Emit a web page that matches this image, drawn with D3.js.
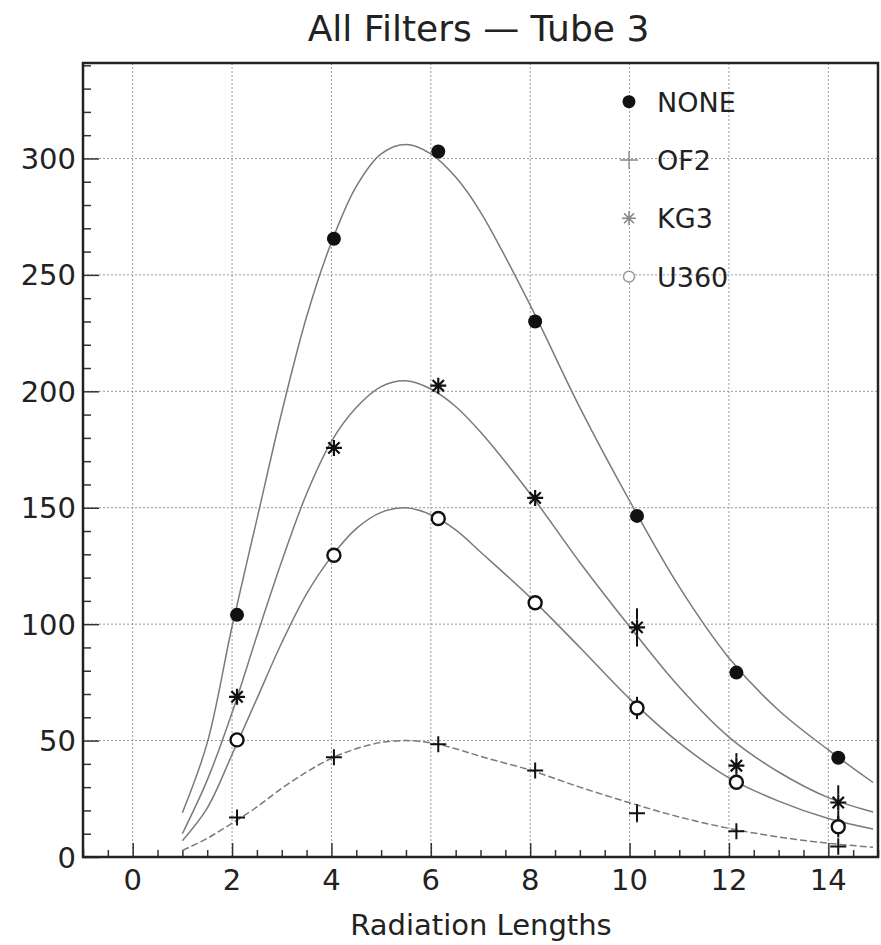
<!DOCTYPE html>
<html>
<head>
<meta charset="utf-8">
<script src="https://cdn.jsdelivr.net/npm/d3@7"></script>
<style>
  html, body { margin: 0; padding: 0; background: #fff; }
  svg { display: block; }
  text { font-family: "DejaVu Sans", sans-serif; fill: #222; }
</style>
</head>
<body>
<svg id="chart" width="881" height="945"></svg>
<script>
// Measured points (x in radiation lengths)
const xValues = [2.1, 4.05, 6.15, 8.1, 10.15, 12.15, 14.2];
const noneValues = [104, 265.5, 303, 230, 146.5, 79.2, 42.6];
const of2Values = [17, 42.8, 48.4, 37.1, 18.8, 11.1, 4.5];
const kg3Values = [68.8, 175.7, 202.4, 154.2, 98.6, 39.2, 23.4];
const u360Values = [50.3, 129.6, 145.4, 109.2, 64, 32.1, 13];

// Vertical uncertainties
const noneErrors = [2, 2.5, 2.5, 2.5, 2.5, 2, 1.5];
const of2Errors = [1, 3, 2, 2, 3.9, 2.5, 3.6];
const kg3Errors = [2, 2.5, 2.5, 2.5, 8.2, 5.4, 7.4];
const u360Errors = [1.5, 2, 2, 2, 4.8, 2, 4.6];

// Fitted longitudinal profiles, sampled along x
const curveX = [1, 1.5, 2, 2.5, 3, 3.5, 4, 4.5, 5, 5.5, 6, 6.5, 7, 8, 9, 10, 11, 12, 13, 14, 14.9];
const noneFit = [19, 49, 99, 145, 191, 232, 264, 288, 302, 306, 302, 292, 277, 237, 193, 153, 116, 85.5, 63, 46, 32];
const of2Fit = [2.8, 8, 14.5, 21.5, 29.5, 36.5, 42.4, 46.5, 49.2, 50, 49, 46.5, 43.2, 37.3, 30, 23.3, 17.2, 12.3, 8.6, 5.9, 4.2];
const kg3Fit = [10, 33, 62, 95, 127, 156, 178.5, 193, 202, 204.5, 201, 193.5, 182.5, 156, 126.5, 99, 73, 51.5, 36.5, 25.5, 19.3];
const u360Fit = [7, 21, 44, 68, 92, 113, 129, 141, 148, 150, 147, 140.5, 131, 111.5, 90, 68, 49, 34, 24, 16.5, 12];

// Axis ticks
const xMajorTicks = [0, 2, 4, 6, 8, 10, 12, 14];
const yMajorTicks = [0, 50, 100, 150, 200, 250, 300];

const titleText = "All Filters — Tube 3";
const xAxisTitle = "Radiation Lengths";
const seriesNames = ["NONE", "OF2", "KG3", "U360"];

const svg = d3.select("#chart");
const frame = { left: 83, right: 878, top: 63, bottom: 857 };

const x = d3.scaleLinear().domain([-1, 15]).range([frame.left, frame.right]);
const y = d3.scaleLinear().domain([0, 341]).range([frame.bottom, frame.top]);

// Title
svg.append("text")
  .attr("x", (frame.left + frame.right) / 2 - 2)
  .attr("y", 41)
  .attr("text-anchor", "middle")
  .style("font-size", "36px")
  .text(titleText);

// Dotted grid
const grid = svg.append("g").attr("stroke", "#9a9a9a").attr("stroke-width", 1)
  .attr("stroke-dasharray", "2,2");
grid.selectAll("line.gx").data(xMajorTicks).join("line")
  .attr("x1", d => x(d)).attr("x2", d => x(d))
  .attr("y1", frame.top).attr("y2", frame.bottom);
grid.selectAll("line.gy").data(yMajorTicks.filter(d => d > 0)).join("line")
  .attr("x1", frame.left).attr("x2", frame.right)
  .attr("y1", d => y(d)).attr("y2", d => y(d));

// Inward ticks via d3 axes
const xMinor = d3.range(-1, 15.01, 0.5).filter(v => !xMajorTicks.includes(v));
const yMinor = d3.range(0, 341, 10).filter(v => !yMajorTicks.includes(v));

function styleAxis(g) {
  g.select(".domain").remove();
  g.selectAll(".tick line").attr("stroke", "#333").attr("stroke-width", 1.5);
}

svg.append("g").attr("transform", `translate(0,${frame.bottom})`)
  .call(d3.axisTop(x).tickValues(xMinor).tickSize(7).tickFormat(""))
  .call(styleAxis);
svg.append("g").attr("transform", `translate(0,${frame.bottom})`)
  .call(d3.axisTop(x).tickValues(xMajorTicks).tickSize(14).tickFormat(""))
  .call(styleAxis);
svg.append("g").attr("transform", `translate(${frame.left},0)`)
  .call(d3.axisRight(y).tickValues(yMinor).tickSize(8).tickFormat(""))
  .call(styleAxis);
svg.append("g").attr("transform", `translate(${frame.left},0)`)
  .call(d3.axisRight(y).tickValues(yMajorTicks).tickSize(16).tickFormat(""))
  .call(styleAxis);

// Tick labels
svg.append("g").selectAll("text").data(xMajorTicks).join("text")
  .attr("x", d => x(d)).attr("y", 890)
  .attr("text-anchor", "middle")
  .style("font-size", "29px")
  .text(d => d);
svg.append("g").selectAll("text").data(yMajorTicks).join("text")
  .attr("x", 76).attr("y", d => y(d) + 10.5)
  .attr("text-anchor", "end")
  .style("font-size", "29px")
  .text(d => d);

// Axis title
svg.append("text")
  .attr("x", 481).attr("y", 935)
  .attr("text-anchor", "middle")
  .style("font-size", "29px")
  .text(xAxisTitle);

// Fit curves
svg.append("clipPath").attr("id", "plot-clip").append("rect")
  .attr("x", frame.left).attr("y", frame.top)
  .attr("width", frame.right - frame.left).attr("height", frame.bottom - frame.top);

const line = d3.line().x(d => x(d[0])).y(d => y(d[1])).curve(d3.curveCatmullRom.alpha(0.5));
const curves = svg.append("g").attr("clip-path", "url(#plot-clip)")
  .attr("fill", "none").attr("stroke", "#7a7a7a").attr("stroke-width", 1.5);
[noneFit, kg3Fit, u360Fit].forEach(fit => {
  curves.append("path").attr("d", line(d3.zip(curveX, fit)));
});
curves.append("path").attr("d", line(d3.zip(curveX, of2Fit)))
  .attr("stroke-dasharray", "7,3");

// Marker drawing helpers
function drawMarker(g, kind, cx, cy, opts) {
  const s = opts.size, c = opts.color, w = opts.width;
  if (kind === "dot") {
    g.append("circle").attr("cx", cx).attr("cy", cy).attr("r", s).attr("fill", c);
  } else if (kind === "circle") {
    g.append("circle").attr("cx", cx).attr("cy", cy).attr("r", s)
      .attr("fill", "#fff").attr("stroke", c).attr("stroke-width", w);
  } else if (kind === "plus") {
    g.append("path").attr("d", `M${cx - s},${cy}H${cx + s}M${cx},${cy - s}V${cy + s}`)
      .attr("stroke", c).attr("stroke-width", w);
  } else if (kind === "star") {
    const d = s * Math.SQRT1_2;
    g.append("path")
      .attr("d", `M${cx - s},${cy}H${cx + s}M${cx},${cy - s}V${cy + s}` +
                 `M${cx - d},${cy - d}L${cx + d},${cy + d}M${cx - d},${cy + d}L${cx + d},${cy - d}`)
      .attr("stroke", c).attr("stroke-width", w);
  }
}

const series = [
  { values: noneValues, errors: noneErrors, kind: "dot", size: 7, width: 0 },
  { values: of2Values, errors: of2Errors, kind: "plus", size: 8, width: 2 },
  { values: kg3Values, errors: kg3Errors, kind: "star", size: 8, width: 2.2 },
  { values: u360Values, errors: u360Errors, kind: "circle", size: 6.5, width: 2.4 }
];

const marks = svg.append("g");
series.forEach(s => {
  xValues.forEach((xv, i) => {
    const cx = x(xv), cy = y(s.values[i]);
    const top = y(s.values[i] + s.errors[i]);
    const bottom = y(s.values[i] - s.errors[i]);
    const gap = s.size;
    if (cy - top > gap) {
      marks.append("line").attr("x1", cx).attr("x2", cx).attr("y1", top).attr("y2", cy - gap)
        .attr("stroke", "#111").attr("stroke-width", 2);
    }
    if (bottom - cy > gap) {
      marks.append("line").attr("x1", cx).attr("x2", cx).attr("y1", cy + gap).attr("y2", bottom)
        .attr("stroke", "#111").attr("stroke-width", 2);
    }
    drawMarker(marks, s.kind, cx, cy, { size: s.size, color: "#111", width: s.width });
  });
});

// Legend
const legend = svg.append("g");
const legendY = [101.7, 160, 218.3, 276.7];
const legendStyle = [
  { kind: "dot", size: 6.5, color: "#111", width: 0 },
  { kind: "plus", size: 9, color: "#888", width: 1.3 },
  { kind: "star", size: 7, color: "#888", width: 1.5 },
  { kind: "circle", size: 5.5, color: "#999", width: 1.5 }
];
seriesNames.forEach((name, i) => {
  drawMarker(legend, legendStyle[i].kind, 629, legendY[i], legendStyle[i]);
  legend.append("text").attr("x", 657).attr("y", legendY[i] + 10)
    .style("font-size", "27px").text(name);
});

// Frame
svg.append("rect")
  .attr("x", frame.left).attr("y", frame.top)
  .attr("width", frame.right - frame.left).attr("height", frame.bottom - frame.top)
  .attr("fill", "none").attr("stroke", "#222").attr("stroke-width", 2.5);
</script>
</body>
</html>
